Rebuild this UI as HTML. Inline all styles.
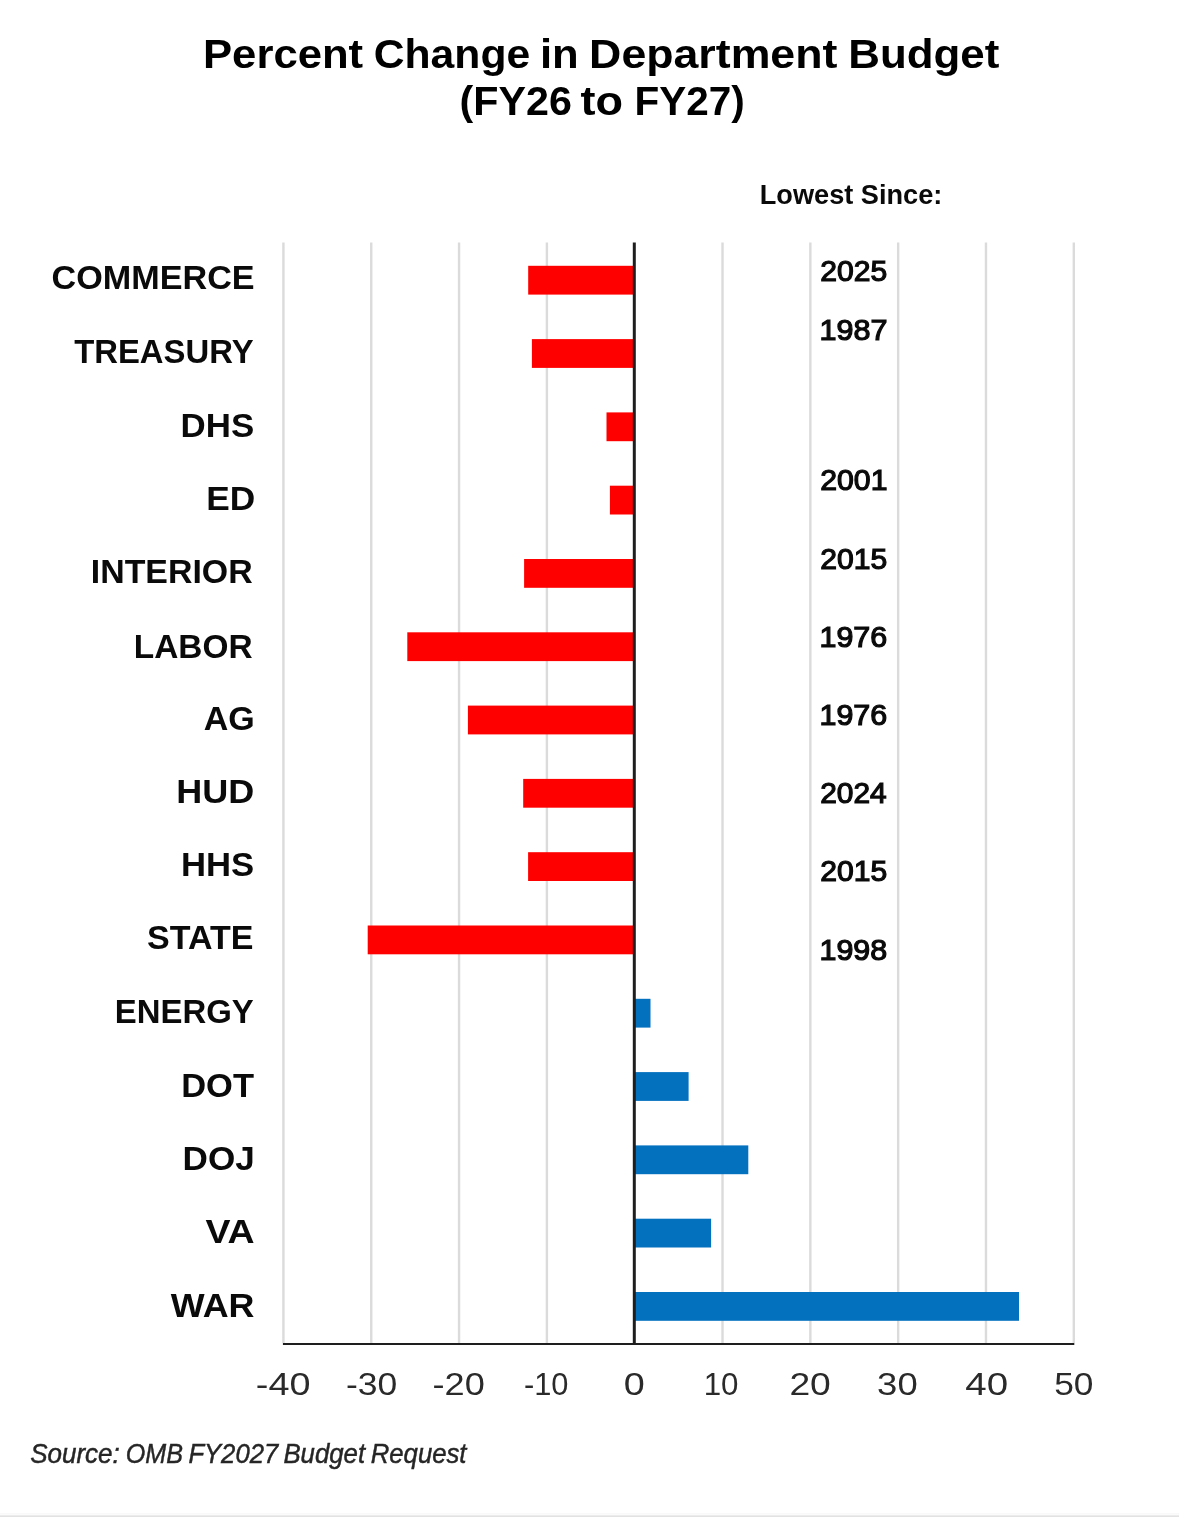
<!DOCTYPE html><html><head><meta charset="utf-8"><style>html,body{margin:0;padding:0;background:#fff;}body{width:1179px;height:1517px;overflow:hidden;position:relative;}svg{position:absolute;left:0;top:0;will-change:transform;}text{font-family:"Liberation Sans",sans-serif;}</style></head><body>
<svg width="1179" height="1517" viewBox="0 0 1179 1517">
<rect x="0" y="0" width="1179" height="1517" fill="#fff"/>
<rect x="0" y="1513" width="1179" height="1" fill="#f9f9f9"/><rect x="0" y="1514" width="1179" height="1" fill="#fbfbfb"/><rect x="0" y="1515" width="1179" height="1" fill="#ececec"/><rect x="0" y="1516" width="1179" height="1" fill="#e2e2e2"/>
<rect x="282.22" y="242.50" width="2.40" height="1100.50" fill="#dbdbdb"/>
<rect x="370.04" y="242.50" width="2.40" height="1100.50" fill="#dbdbdb"/>
<rect x="457.86" y="242.50" width="2.40" height="1100.50" fill="#dbdbdb"/>
<rect x="545.68" y="242.50" width="2.40" height="1100.50" fill="#dbdbdb"/>
<rect x="721.32" y="242.50" width="2.40" height="1100.50" fill="#dbdbdb"/>
<rect x="809.14" y="242.50" width="2.40" height="1100.50" fill="#dbdbdb"/>
<rect x="896.96" y="242.50" width="2.40" height="1100.50" fill="#dbdbdb"/>
<rect x="984.78" y="242.50" width="2.40" height="1100.50" fill="#dbdbdb"/>
<rect x="1072.60" y="242.50" width="2.40" height="1100.50" fill="#dbdbdb"/>
<rect x="528.20" y="265.80" width="106.10" height="28.80" fill="#ff0000"/>
<rect x="531.90" y="339.10" width="102.40" height="28.80" fill="#ff0000"/>
<rect x="606.50" y="412.40" width="27.80" height="28.80" fill="#ff0000"/>
<rect x="609.90" y="485.70" width="24.40" height="28.80" fill="#ff0000"/>
<rect x="524.10" y="559.00" width="110.20" height="28.80" fill="#ff0000"/>
<rect x="407.30" y="632.30" width="227.00" height="28.80" fill="#ff0000"/>
<rect x="467.90" y="705.60" width="166.40" height="28.80" fill="#ff0000"/>
<rect x="523.20" y="778.90" width="111.10" height="28.80" fill="#ff0000"/>
<rect x="528.10" y="852.20" width="106.20" height="28.80" fill="#ff0000"/>
<rect x="367.70" y="925.50" width="266.60" height="28.80" fill="#ff0000"/>
<rect x="634.30" y="998.80" width="16.20" height="28.80" fill="#0471bf"/>
<rect x="634.30" y="1072.10" width="54.30" height="28.80" fill="#0471bf"/>
<rect x="634.30" y="1145.40" width="114.00" height="28.80" fill="#0471bf"/>
<rect x="634.30" y="1218.70" width="76.80" height="28.80" fill="#0471bf"/>
<rect x="634.30" y="1292.00" width="384.70" height="28.80" fill="#0471bf"/>
<rect x="632.80" y="242.50" width="3.00" height="1102.50" fill="#1e1e1e"/>
<rect x="282.92" y="1343.00" width="791.38" height="2.00" fill="#1e1e1e"/>
<text x="203.00" y="68.00" font-size="40.00" fill="#000" textLength="160.15" lengthAdjust="spacingAndGlyphs" font-weight="bold" font-family="Liberation Sans, sans-serif">Percent</text>
<text x="373.73" y="68.00" font-size="40.00" fill="#000" textLength="156.50" lengthAdjust="spacingAndGlyphs" font-weight="bold" font-family="Liberation Sans, sans-serif">Change</text>
<text x="540.00" y="68.00" font-size="40.00" fill="#000" textLength="38.78" lengthAdjust="spacingAndGlyphs" font-weight="bold" font-family="Liberation Sans, sans-serif">in</text>
<text x="589.13" y="68.00" font-size="40.00" fill="#000" textLength="248.25" lengthAdjust="spacingAndGlyphs" font-weight="bold" font-family="Liberation Sans, sans-serif">Department</text>
<text x="848.28" y="68.00" font-size="40.00" fill="#000" textLength="151.08" lengthAdjust="spacingAndGlyphs" font-weight="bold" font-family="Liberation Sans, sans-serif">Budget</text>
<text x="459.64" y="115.00" font-size="40.00" fill="#000" textLength="112.35" lengthAdjust="spacingAndGlyphs" font-weight="bold" font-family="Liberation Sans, sans-serif">(FY26</text>
<text x="580.64" y="115.00" font-size="40.00" fill="#000" textLength="42.47" lengthAdjust="spacingAndGlyphs" font-weight="bold" font-family="Liberation Sans, sans-serif">to</text>
<text x="634.42" y="115.00" font-size="40.00" fill="#000" textLength="110.24" lengthAdjust="spacingAndGlyphs" font-weight="bold" font-family="Liberation Sans, sans-serif">FY27)</text>
<text x="759.79" y="204.00" font-size="27.80" fill="#0a0a0a" textLength="182.50" lengthAdjust="spacingAndGlyphs" font-weight="bold" font-family="Liberation Sans, sans-serif">Lowest Since:</text>
<text x="51.60" y="289.00" font-size="32.40" fill="#0a0a0a" textLength="203.00" lengthAdjust="spacingAndGlyphs" font-weight="bold" font-family="Liberation Sans, sans-serif">COMMERCE</text>
<text x="74.20" y="363.20" font-size="32.40" fill="#0a0a0a" textLength="179.40" lengthAdjust="spacingAndGlyphs" font-weight="bold" font-family="Liberation Sans, sans-serif">TREASURY</text>
<text x="180.60" y="436.70" font-size="32.40" fill="#0a0a0a" textLength="73.60" lengthAdjust="spacingAndGlyphs" font-weight="bold" font-family="Liberation Sans, sans-serif">DHS</text>
<text x="206.20" y="509.60" font-size="32.40" fill="#0a0a0a" textLength="49.00" lengthAdjust="spacingAndGlyphs" font-weight="bold" font-family="Liberation Sans, sans-serif">ED</text>
<text x="90.80" y="582.90" font-size="32.40" fill="#0a0a0a" textLength="161.80" lengthAdjust="spacingAndGlyphs" font-weight="bold" font-family="Liberation Sans, sans-serif">INTERIOR</text>
<text x="133.80" y="657.50" font-size="32.40" fill="#0a0a0a" textLength="118.80" lengthAdjust="spacingAndGlyphs" font-weight="bold" font-family="Liberation Sans, sans-serif">LABOR</text>
<text x="203.80" y="730.00" font-size="32.40" fill="#0a0a0a" textLength="51.00" lengthAdjust="spacingAndGlyphs" font-weight="bold" font-family="Liberation Sans, sans-serif">AG</text>
<text x="176.20" y="802.90" font-size="32.40" fill="#0a0a0a" textLength="78.00" lengthAdjust="spacingAndGlyphs" font-weight="bold" font-family="Liberation Sans, sans-serif">HUD</text>
<text x="181.00" y="875.90" font-size="32.40" fill="#0a0a0a" textLength="73.20" lengthAdjust="spacingAndGlyphs" font-weight="bold" font-family="Liberation Sans, sans-serif">HHS</text>
<text x="147.00" y="948.90" font-size="32.40" fill="#0a0a0a" textLength="106.40" lengthAdjust="spacingAndGlyphs" font-weight="bold" font-family="Liberation Sans, sans-serif">STATE</text>
<text x="114.80" y="1023.40" font-size="32.40" fill="#0a0a0a" textLength="139.00" lengthAdjust="spacingAndGlyphs" font-weight="bold" font-family="Liberation Sans, sans-serif">ENERGY</text>
<text x="181.20" y="1096.70" font-size="32.40" fill="#0a0a0a" textLength="72.80" lengthAdjust="spacingAndGlyphs" font-weight="bold" font-family="Liberation Sans, sans-serif">DOT</text>
<text x="182.60" y="1169.60" font-size="32.40" fill="#0a0a0a" textLength="72.20" lengthAdjust="spacingAndGlyphs" font-weight="bold" font-family="Liberation Sans, sans-serif">DOJ</text>
<text x="205.40" y="1242.60" font-size="32.40" fill="#0a0a0a" textLength="49.30" lengthAdjust="spacingAndGlyphs" font-weight="bold" font-family="Liberation Sans, sans-serif">VA</text>
<text x="170.80" y="1317.20" font-size="32.40" fill="#0a0a0a" textLength="83.70" lengthAdjust="spacingAndGlyphs" font-weight="bold" font-family="Liberation Sans, sans-serif">WAR</text>
<text x="820.27" y="281.00" font-size="29.00" fill="#0a0a0a" textLength="66.92" lengthAdjust="spacingAndGlyphs" stroke="#0a0a0a" stroke-width="1.2" font-family="Liberation Sans, sans-serif">2025</text>
<text x="819.46" y="340.00" font-size="29.00" fill="#0a0a0a" textLength="68.00" lengthAdjust="spacingAndGlyphs" stroke="#0a0a0a" stroke-width="1.2" font-family="Liberation Sans, sans-serif">1987</text>
<text x="820.26" y="490.00" font-size="29.00" fill="#0a0a0a" textLength="67.19" lengthAdjust="spacingAndGlyphs" stroke="#0a0a0a" stroke-width="1.2" font-family="Liberation Sans, sans-serif">2001</text>
<text x="820.27" y="569.00" font-size="29.00" fill="#0a0a0a" textLength="66.92" lengthAdjust="spacingAndGlyphs" stroke="#0a0a0a" stroke-width="1.2" font-family="Liberation Sans, sans-serif">2015</text>
<text x="819.47" y="647.00" font-size="29.00" fill="#0a0a0a" textLength="67.73" lengthAdjust="spacingAndGlyphs" stroke="#0a0a0a" stroke-width="1.2" font-family="Liberation Sans, sans-serif">1976</text>
<text x="819.47" y="725.00" font-size="29.00" fill="#0a0a0a" textLength="67.73" lengthAdjust="spacingAndGlyphs" stroke="#0a0a0a" stroke-width="1.2" font-family="Liberation Sans, sans-serif">1976</text>
<text x="820.27" y="803.00" font-size="29.00" fill="#0a0a0a" textLength="66.40" lengthAdjust="spacingAndGlyphs" stroke="#0a0a0a" stroke-width="1.2" font-family="Liberation Sans, sans-serif">2024</text>
<text x="820.27" y="881.00" font-size="29.00" fill="#0a0a0a" textLength="66.92" lengthAdjust="spacingAndGlyphs" stroke="#0a0a0a" stroke-width="1.2" font-family="Liberation Sans, sans-serif">2015</text>
<text x="819.47" y="960.00" font-size="29.00" fill="#0a0a0a" textLength="67.73" lengthAdjust="spacingAndGlyphs" stroke="#0a0a0a" stroke-width="1.2" font-family="Liberation Sans, sans-serif">1998</text>
<text x="283.20" y="1395.00" font-size="30.80" fill="#2a2a2a" textLength="54.69" lengthAdjust="spacingAndGlyphs" text-anchor="middle" font-family="Liberation Sans, sans-serif">-40</text>
<text x="371.70" y="1395.00" font-size="30.80" fill="#2a2a2a" textLength="51.30" lengthAdjust="spacingAndGlyphs" text-anchor="middle" font-family="Liberation Sans, sans-serif">-30</text>
<text x="458.70" y="1395.00" font-size="30.80" fill="#2a2a2a" textLength="52.25" lengthAdjust="spacingAndGlyphs" text-anchor="middle" font-family="Liberation Sans, sans-serif">-20</text>
<text x="546.20" y="1395.00" font-size="30.80" fill="#2a2a2a" textLength="44.52" lengthAdjust="spacingAndGlyphs" text-anchor="middle" font-family="Liberation Sans, sans-serif">-10</text>
<text x="634.40" y="1395.00" font-size="30.80" fill="#2a2a2a" textLength="21.03" lengthAdjust="spacingAndGlyphs" text-anchor="middle" font-family="Liberation Sans, sans-serif">0</text>
<text x="721.10" y="1395.00" font-size="30.80" fill="#2a2a2a" textLength="34.84" lengthAdjust="spacingAndGlyphs" text-anchor="middle" font-family="Liberation Sans, sans-serif">10</text>
<text x="810.10" y="1395.00" font-size="30.80" fill="#2a2a2a" textLength="41.45" lengthAdjust="spacingAndGlyphs" text-anchor="middle" font-family="Liberation Sans, sans-serif">20</text>
<text x="897.40" y="1395.00" font-size="30.80" fill="#2a2a2a" textLength="40.57" lengthAdjust="spacingAndGlyphs" text-anchor="middle" font-family="Liberation Sans, sans-serif">30</text>
<text x="986.70" y="1395.00" font-size="30.80" fill="#2a2a2a" textLength="42.83" lengthAdjust="spacingAndGlyphs" text-anchor="middle" font-family="Liberation Sans, sans-serif">40</text>
<text x="1073.80" y="1395.00" font-size="30.80" fill="#2a2a2a" textLength="39.30" lengthAdjust="spacingAndGlyphs" text-anchor="middle" font-family="Liberation Sans, sans-serif">50</text>
<text x="30.18" y="1463.00" font-size="27.00" fill="#262626" textLength="89.65" lengthAdjust="spacingAndGlyphs" font-style="italic" stroke="#262626" stroke-width="0.45" font-family="Liberation Sans, sans-serif">Source:</text>
<text x="125.70" y="1463.00" font-size="27.00" fill="#262626" textLength="57.24" lengthAdjust="spacingAndGlyphs" font-style="italic" stroke="#262626" stroke-width="0.45" font-family="Liberation Sans, sans-serif">OMB</text>
<text x="188.39" y="1463.00" font-size="27.00" fill="#262626" textLength="89.77" lengthAdjust="spacingAndGlyphs" font-style="italic" stroke="#262626" stroke-width="0.45" font-family="Liberation Sans, sans-serif">FY2027</text>
<text x="283.38" y="1463.00" font-size="27.00" fill="#262626" textLength="81.74" lengthAdjust="spacingAndGlyphs" font-style="italic" stroke="#262626" stroke-width="0.45" font-family="Liberation Sans, sans-serif">Budget</text>
<text x="370.69" y="1463.00" font-size="27.00" fill="#262626" textLength="95.84" lengthAdjust="spacingAndGlyphs" font-style="italic" stroke="#262626" stroke-width="0.45" font-family="Liberation Sans, sans-serif">Request</text>
</svg></body></html>
